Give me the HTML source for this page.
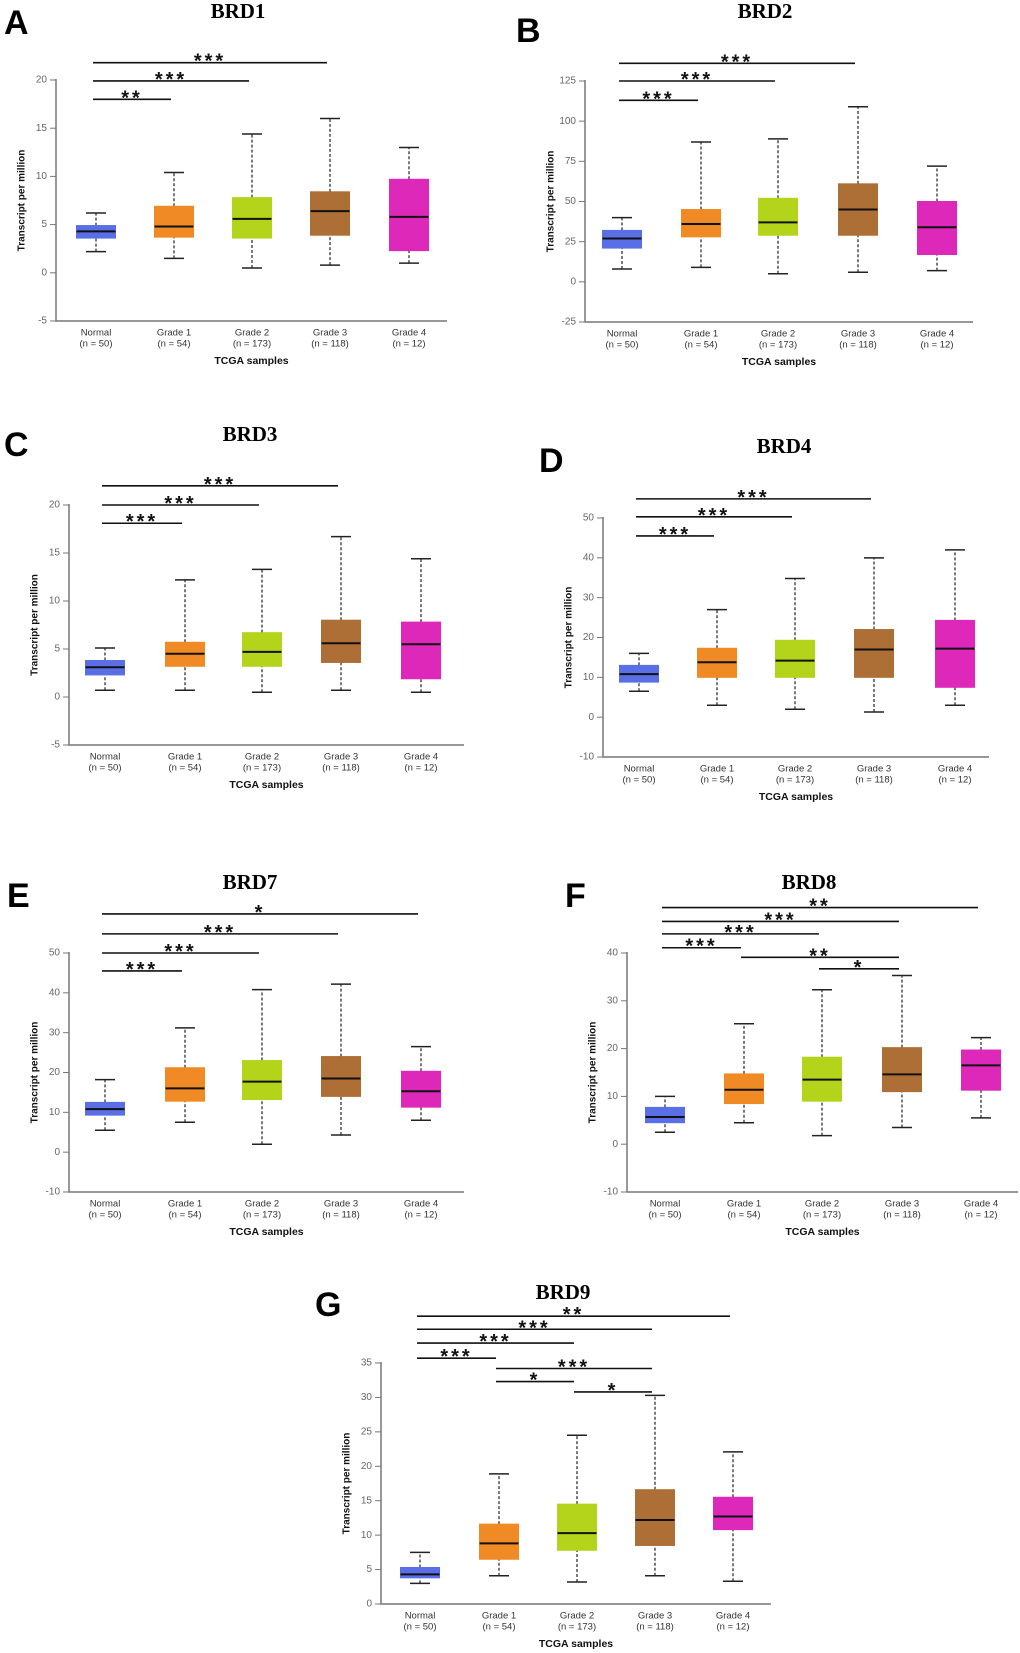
<!DOCTYPE html>
<html><head><meta charset="utf-8"><style>
html,body{margin:0;padding:0;background:#fff}
svg{display:block}
text{font-family:"Liberation Sans",sans-serif}
</style></head>
<body>
<svg id="fig" width="1020" height="1653" viewBox="0 0 1020 1653"></svg>
<script>
const categories = ["Normal","Grade 1","Grade 2","Grade 3","Grade 4"];
const counts = ["(n = 50)","(n = 54)","(n = 173)","(n = 118)","(n = 12)"];
const colors = ["#5a6ee6","#f08a24","#b3d41a","#ad6f35","#de28b9"];

// box stats: [min, q1, median, q3, max]
const brd1Box = [[2.2,3.6,4.3,4.9,6.2],[1.5,3.7,4.8,6.9,10.4],[0.5,3.6,5.6,7.8,14.4],[0.8,3.9,6.4,8.4,16],[1,2.3,5.8,9.7,13]];
const brd1Ticks = [-5,0,5,10,15,20];
const brd1Sig = [[0,1,18.0,"**"],[0,2,19.9,"***"],[0,3,21.8,"***"]];

const brd2Box = [[8,21,27,32,40],[9,28,36,45,87],[5,29,37,52,89],[6,29,45,61,109],[7,17,34,50,72]];
const brd2Ticks = [-25,0,25,50,75,100,125];
const brd2Sig = [[0,1,113,"***"],[0,2,125,"***"],[0,3,136,"***"]];

const brd3Box = [[0.7,2.3,3.1,3.8,5.1],[0.7,3.2,4.5,5.7,12.2],[0.5,3.2,4.7,6.7,13.3],[0.7,3.6,5.6,8,16.7],[0.5,1.9,5.5,7.8,14.4]];
const brd3Ticks = [-5,0,5,10,15,20];
const brd3Sig = [[0,1,18.1,"***"],[0,2,20,"***"],[0,3,22,"***"]];

const brd4Box = [[6.5,8.8,10.8,13,16],[3,10,13.8,17.3,27],[2,10,14.2,19.3,34.8],[1.3,10,17,22,40],[3,7.5,17.2,24.3,42]];
const brd4Ticks = [-10,0,10,20,30,40,50];
const brd4Sig = [[0,1,45.5,"***"],[0,2,50.3,"***"],[0,3,54.8,"***"]];

const brd7Box = [[5.5,9.3,10.8,12.5,18.2],[7.5,12.8,16,21.2,31.2],[2,13.2,17.7,23,40.8],[4.3,14,18.5,24,42.2],[8,11.3,15.3,20.3,26.5]];
const brd7Ticks = [-10,0,10,20,30,40,50];
const brd7Sig = [[0,1,45.5,"***"],[0,2,50,"***"],[0,3,54.8,"***"],[0,4,59.8,"*"]];

const brd8Box = [[2.5,4.5,5.7,7.7,10],[4.5,8.5,11.4,14.7,25.2],[1.8,9,13.5,18.2,32.3],[3.5,11,14.6,20.2,35.3],[5.5,11.3,16.5,19.7,22.3]];
const brd8Ticks = [-10,0,10,20,30,40];
const brd8Sig = [[0,1,41.1,"***"],[0,2,44,"***"],[0,3,46.6,"***"],[0,4,49.5,"**"],[1,3,39.1,"**"],[2,3,36.7,"*"]];

const brd9Box = [[3,3.8,4.3,5.3,7.5],[4.1,6.5,8.8,11.6,18.9],[3.2,7.8,10.3,14.5,24.5],[4.1,8.5,12.2,16.6,30.3],[3.3,10.8,12.7,15.5,22.1]];
const brd9Ticks = [0,5,10,15,20,25,30,35];
const brd9Sig = [[0,1,35.7,"***"],[0,2,37.9,"***"],[0,3,39.9,"***"],[0,4,41.8,"**"],[1,3,34.2,"***"],[1,2,32.3,"*"],[2,3,30.8,"*"]];

const NS = "http://www.w3.org/2000/svg";
const svg = document.getElementById("fig");
function mk(tag, attrs, parent, txt){
  const e = document.createElementNS(NS, tag);
  for (const k in attrs) e.setAttribute(k, attrs[k]);
  if (txt !== undefined) e.textContent = txt;
  parent.appendChild(e);
  return e;
}

function panel(p){
  const g = mk("g", {}, svg);
  
  
  const lo = p.ticks[0], hi = p.ticks[p.ticks.length-1];
  const y = v => p.bottom - (v - lo) / (hi - lo) * (p.bottom - p.top);
  const x = i => p.centers[i];
  const L = mk("text", {x:p.letter[0], y:p.letter[1], "font-size":34, "font-weight":"bold", fill:"#000"}, g, p.label);
  
  
  const T = mk("text", {x:p.titlePos[0], y:p.titlePos[1], "font-size":21, "font-weight":"bold", "text-anchor":"middle", "dominant-baseline":"middle", style:'font-family:"Liberation Serif",serif', fill:"#000"}, g, p.title);
  
  
  const ax = mk("path", {d:`M${p.left} ${p.top-1} V${p.bottom} H${p.right}`, stroke:"#777", "stroke-width":1.5, fill:"none"}, g);
  
  
  p.ticks.forEach(t => {
    const yy = y(t);
    mk("line", {x1:p.left-6, x2:p.left, y1:yy, y2:yy, stroke:"#777", "stroke-width":1}, g);
    const tl = mk("text", {x:p.left-9, y:yy, "font-size":10, fill:"#666", "text-anchor":"end", "dominant-baseline":"middle"}, g, String(t));
    
    
  });
  const yt = mk("text", {x:0, y:0, "font-size":10, "font-weight":"bold", fill:"#111", "text-anchor":"middle", "dominant-baseline":"middle", transform:`translate(${p.left-34},${(p.top+p.bottom)/2}) rotate(-90)`}, g, "Transcript per million");
  
  
  categories.forEach((c, i) => {
    const t1 = mk("text", {x:x(i), y:p.bottom+12, "font-size":9.5, fill:"#333", "text-anchor":"middle", "dominant-baseline":"middle"}, g, c);
    
    
    const t2 = mk("text", {x:x(i), y:p.bottom+23, "font-size":9.5, fill:"#333", "text-anchor":"middle", "dominant-baseline":"middle"}, g, counts[i]);
    
    
  });
  const xt = mk("text", {x:(p.left+p.right)/2, y:p.bottom+40, "font-size":10.5, "font-weight":"bold", fill:"#111", "text-anchor":"middle", "dominant-baseline":"middle"}, g, "TCGA samples");
  
  
  const bw = 39, cw = 10;
  p.box.forEach((b, i) => {
    const cx = x(i);
    const bg = mk("g", {}, g);
    
    
    mk("line", {x1:cx, x2:cx, y1:y(b[0]), y2:y(b[1]), stroke:"#222", "stroke-width":1.2, "stroke-dasharray":"3,2"}, bg);
    mk("line", {x1:cx, x2:cx, y1:y(b[3]), y2:y(b[4]), stroke:"#222", "stroke-width":1.2, "stroke-dasharray":"3,2"}, bg);
    mk("line", {x1:cx-cw, x2:cx+cw, y1:y(b[0]), y2:y(b[0]), stroke:"#222", "stroke-width":1.5}, bg);
    mk("line", {x1:cx-cw, x2:cx+cw, y1:y(b[4]), y2:y(b[4]), stroke:"#222", "stroke-width":1.5}, bg);
    mk("rect", {x:cx-bw/2, y:y(b[3]), width:bw, height:y(b[1])-y(b[3]), fill:colors[i], stroke:colors[i], "stroke-width":1}, bg);
    mk("line", {x1:cx-bw/2, x2:cx+bw/2, y1:y(b[2]), y2:y(b[2]), stroke:"#111", "stroke-width":2}, bg);
  });
  p.sig.forEach(s => {
    const sg = mk("g", {}, g);
    
    
    const x1 = x(s[0]) - 3, x2 = x(s[1]) - 3, yy = y(s[2]);
    mk("line", {x1:x1, x2:x2, y1:yy, y2:yy, stroke:"#111", "stroke-width":1.6}, sg);
    mk("text", {x:(x1+x2)/2, y:yy+5, "font-size":20, "font-weight":"bold", fill:"#111", "text-anchor":"middle", "letter-spacing":"3"}, sg, s[3]);
  });
}

panel({label:"A", title:"BRD1", letter:[4,34], titlePos:[238,13], left:56, right:447, top:80, bottom:321, centers:[96,174,252,330,409], box:brd1Box, ticks:brd1Ticks, sig:brd1Sig});
panel({label:"B", title:"BRD2", letter:[516,42], titlePos:[765,13], left:585, right:973, top:81, bottom:322, centers:[622,701,778,858,937], box:brd2Box, ticks:brd2Ticks, sig:brd2Sig});
panel({label:"C", title:"BRD3", letter:[4,456], titlePos:[250,436], left:69, right:464, top:505, bottom:745, centers:[105,185,262,341,421], box:brd3Box, ticks:brd3Ticks, sig:brd3Sig});
panel({label:"D", title:"BRD4", letter:[539,472], titlePos:[784,448], left:603, right:989, top:518, bottom:757, centers:[639,717,795,874,955], box:brd4Box, ticks:brd4Ticks, sig:brd4Sig});
panel({label:"E", title:"BRD7", letter:[7,907], titlePos:[250,884], left:69, right:464, top:953, bottom:1192, centers:[105,185,262,341,421], box:brd7Box, ticks:brd7Ticks, sig:brd7Sig});
panel({label:"F", title:"BRD8", letter:[565,907], titlePos:[809,884], left:627, right:1018, top:953, bottom:1192, centers:[665,744,822,902,981], box:brd8Box, ticks:brd8Ticks, sig:brd8Sig});
panel({label:"G", title:"BRD9", letter:[315,1316], titlePos:[563,1294], left:381, right:771, top:1363, bottom:1604, centers:[420,499,577,655,733], box:brd9Box, ticks:brd9Ticks, sig:brd9Sig});
</script>
</body></html>
